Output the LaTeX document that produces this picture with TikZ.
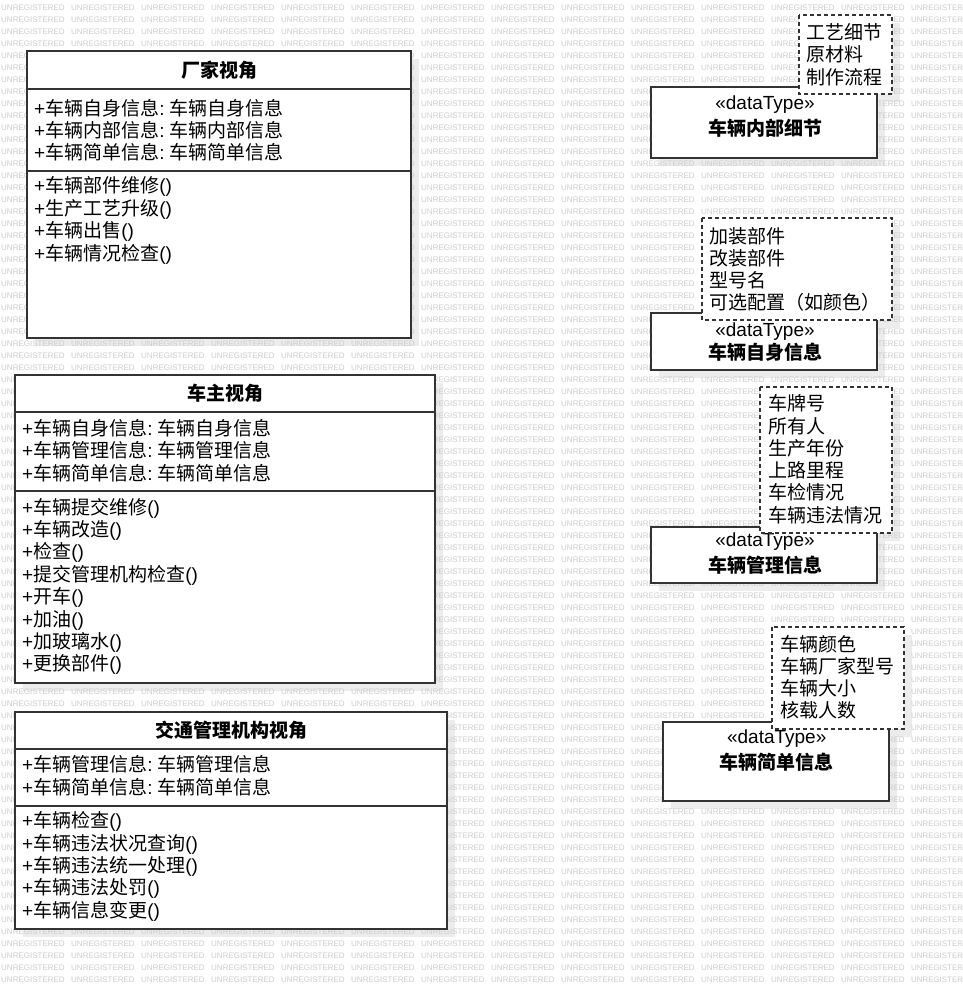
\documentclass[tikz,border=0pt]{standalone}
\usepackage{fontspec}
\setmainfont{Noto Sans CJK SC}
\newfontfamily\latfont{Liberation Sans}
\newcommand\Pp{{\latfont +}}
\newcommand\Cc{{\latfont :\ }}
\newcommand\Prs{{\latfont ()}}
\definecolor{wmgray}{RGB}{204,204,204}
\definecolor{edge}{RGB}{51,51,51}
\definecolor{shade}{RGB}{236,236,236}
\tikzset{
  wm/.style={font=\latfont\fontsize{8}{8}\selectfont, text=wmgray, inner sep=0pt, anchor=west},
  cls/.style={draw=edge, line width=2pt, fill=white},
  sepline/.style={draw=edge, line width=2pt},
  notebox/.style={draw=edge, line width=1.8pt, dash pattern=on 4pt off 3pt, fill=white},
  shadowbox/.style={fill=shade},
  txt/.style={font=\fontsize{19}{22}\selectfont, inner sep=0pt, anchor=west, text=black},
  ttl/.style={font=\fontsize{19}{22}\selectfont\bfseries, inner sep=0pt, text=black},
  stereo/.style={font=\latfont\fontsize{19}{22}\selectfont, inner sep=0pt, text=black},
}
\begin{document}
\begin{tikzpicture}[x=1pt,y=-1pt]
\useasboundingbox (0,0) rectangle (963,990);
\clip (0,0) rectangle (963,990);
\fill[white] (0,0) rectangle (963,990);
% shadows
\foreach \a/\b/\c/\d in {27/51/411/338, 15/375/435/683, 15/712/447/929,
  651/87/877/158, 651/313/877/370, 651/527/877/583, 663/722/889/801,
  799/15/892/94, 702/218/892/320, 760/387/892/533, 772/627/904/729}
  \fill[shadowbox] ({\a+8},{\b+8}) rectangle ({\c+8},{\d+8});
% watermark
\foreach \r in {0,...,81}{
  \foreach \c in {0,...,12}
    \node[wm] (wm-\r-\c) at ({1+70*\c},{7.3+12*\r}) {UNREGISTERED};
  \node[wm, font=\latfont\fontsize{7.9}{8}\selectfont] (wm-\r-13) at (911,{7.3+12*\r}) {UNREGISTER};
}
% ---------- class 1
\draw[cls] (27,51) rectangle (411,338);
\draw[sepline] (27,88.5) -- (411,88.5);
\draw[sepline] (27,171) -- (411,171);
\node[ttl] (t1) at (219,70) {厂家视角};
\foreach \t [count=\i from 0] in {{\Pp 车辆自身信息\Cc 车辆自身信息},{\Pp 车辆内部信息\Cc 车辆内部信息},{\Pp 车辆简单信息\Cc 车辆简单信息}}
  \node[txt] (a1-\i) at (34,{108+22*\i}) {\t};
\foreach \t [count=\i from 0] in {{\Pp 车辆部件维修\Prs},{\Pp 生产工艺升级\Prs},{\Pp 车辆出售\Prs},{\Pp 车辆情况检查\Prs}}
  \node[txt] (m1-\i) at (34,{186.5+22.6*\i}) {\t};
% ---------- class 2
\draw[cls] (15,375) rectangle (435,683);
\draw[sepline] (15,411.5) -- (435,411.5);
\draw[sepline] (15,491) -- (435,491);
\node[ttl] (t2) at (225,393) {车主视角};
\foreach \t [count=\i from 0] in {{\Pp 车辆自身信息\Cc 车辆自身信息},{\Pp 车辆管理信息\Cc 车辆管理信息},{\Pp 车辆简单信息\Cc 车辆简单信息}}
  \node[txt] (a2-\i) at (22,{428+22.4*\i}) {\t};
\foreach \t [count=\i from 0] in {{\Pp 车辆提交维修\Prs},{\Pp 车辆改造\Prs},{\Pp 检查\Prs},{\Pp 提交管理机构检查\Prs},{\Pp 开车\Prs},{\Pp 加油\Prs},{\Pp 加玻璃水\Prs},{\Pp 更换部件\Prs}}
  \node[txt] (m2-\i) at (22,{508+22.4*\i}) {\t};
% ---------- class 3
\draw[cls] (15,712) rectangle (447,929);
\draw[sepline] (15,748.5) -- (447,748.5);
\draw[sepline] (15,806) -- (447,806);
\node[ttl] (t3) at (231,730.5) {交通管理机构视角};
\foreach \t [count=\i from 0] in {{\Pp 车辆管理信息\Cc 车辆管理信息},{\Pp 车辆简单信息\Cc 车辆简单信息}}
  \node[txt] (a3-\i) at (22,{764+22.8*\i}) {\t};
\foreach \t [count=\i from 0] in {{\Pp 车辆检查\Prs},{\Pp 车辆违法状况查询\Prs},{\Pp 车辆违法统一处理\Prs},{\Pp 车辆违法处罚\Prs},{\Pp 车辆信息变更\Prs}}
  \node[txt] (m3-\i) at (22,{821.7+22.35*\i}) {\t};
% ---------- datatypes
\draw[cls] (651,87) rectangle (877,158);
\node[stereo] (s1) at (765,105) {«dataType»};
\node[ttl] (d1) at (765,128) {车辆内部细节};
\draw[cls] (651,313) rectangle (877,370);
\node[stereo] (s2) at (765,331.7) {«dataType»};
\node[ttl] (d2) at (765,352) {车辆自身信息};
\draw[cls] (651,527) rectangle (877,583);
\node[stereo] (s3) at (765,541.7) {«dataType»};
\node[ttl] (d3) at (765,565) {车辆管理信息};
\draw[cls] (663,722) rectangle (889,801);
\node[stereo] (s4) at (776.7,738.3) {«dataType»};
\node[ttl] (d4) at (776.7,761.7) {车辆简单信息};
% ---------- notes
\draw[notebox] (799,15) rectangle (892,94);
\foreach \t [count=\i from 0] in {工艺细节,原材料,制作流程}
  \node[txt] (n1-\i) at (806,{32+22.4*\i}) {\t};
\draw[notebox] (702,218) rectangle (892,320);
\foreach \t [count=\i from 0] in {加装部件,改装部件,型号名,{可选配置（如颜色）}}
  \node[txt] (n2-\i) at (709,{236+22*\i}) {\t};
\draw[notebox] (760,387) rectangle (892,533);
\foreach \t [count=\i from 0] in {车牌号,所有人,生产年份,上路里程,车检情况,车辆违法情况}
  \node[txt] (n3-\i) at (768,{403.5+22.3*\i}) {\t};
\draw[notebox] (772,627) rectangle (904,729);
\foreach \t [count=\i from 0] in {车辆颜色,车辆厂家型号,车辆大小,核载人数}
  \node[txt] (n4-\i) at (780,{644+22.2*\i}) {\t};
\end{tikzpicture}
\end{document}
